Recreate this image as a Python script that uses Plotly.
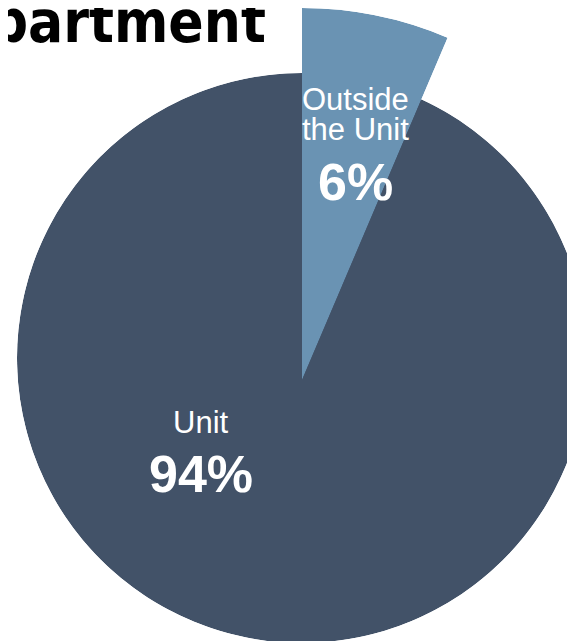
import numpy as np
import plotly.graph_objects as go

# ---- data ----
categories = ["Outside the Unit", "Unit"]
shares = [6.4, 93.6]
pct_labels = ["6%", "94%"]
title_text = "Department"

# ---- styles ----
W, H = 600, 660
OFF = 8  # page body margin
UNIT_COLOR = "#425268"
OUT_COLOR = "#6a93b3"
LABEL_FONT = "Liberation Sans, Arial, sans-serif"
TITLE_FONT = "DejaVu Sans Condensed, DejaVu Sans, sans-serif"

total = sum(shares)
spans = [s / total * 360.0 for s in shares]
starts = np.cumsum([0.0] + spans[:-1])
centers = [float(st + sp / 2) for st, sp in zip(starts, spans)]

fig = go.Figure()
fig.add_trace(go.Barpolar(
    r=[1, 1], theta=centers, width=spans, text=categories,
    marker=dict(color=[UNIT_COLOR, UNIT_COLOR], line=dict(width=0)),
    subplot="polar", hoverinfo="text", showlegend=False))
fig.add_trace(go.Barpolar(
    r=[1], theta=[centers[0]], width=[spans[0]], text=[categories[0]],
    marker=dict(color=OUT_COLOR, line=dict(width=0)),
    subplot="polar2", hoverinfo="text", showlegend=False))

def px_x(x):
    return (x - OFF) / W

def px_y(y):
    return 1 - (y - OFF) / H

cx, cy, R1 = 302, 358, 285
ax_, ay_, R2 = 302, 380, 372
sp = np.deg2rad(spans[0])

common = dict(
    bgcolor="rgba(0,0,0,0)",
    radialaxis=dict(visible=False, range=[0, 1]),
    angularaxis=dict(visible=False, rotation=90, direction="clockwise"),
    bargap=0,
)
fig.update_layout(
    polar=dict(domain=dict(x=[px_x(cx - R1), px_x(cx + R1)], y=[px_y(cy + R1), px_y(cy - R1)]), **common),
    polar2=dict(domain=dict(x=[px_x(ax_), px_x(ax_ + R2 * np.sin(sp))], y=[px_y(ay_), px_y(ay_ - R2)]),
                sector=[90 - spans[0], 90], **common),
)

anns = [
    dict(text=title_text, x=px_x(268), y=px_y(22), xanchor="right", yanchor="middle",
         font=dict(family=TITLE_FONT, size=58, color="black", weight="bold")),
    dict(text="Outside", x=px_x(355.5), y=px_y(99), xanchor="center", yanchor="middle",
         font=dict(family=LABEL_FONT, size=31, color="white")),
    dict(text="the Unit", x=px_x(355.5), y=px_y(129), xanchor="center", yanchor="middle",
         font=dict(family=LABEL_FONT, size=31, color="white")),
    dict(text="<b>" + pct_labels[0] + "</b>", x=px_x(355), y=px_y(181.5), xanchor="center", yanchor="middle",
         font=dict(family=LABEL_FONT, size=52, color="white")),
    dict(text=categories[1], x=px_x(201), y=px_y(422.5), xanchor="center", yanchor="middle",
         font=dict(family=LABEL_FONT, size=31, color="white")),
    dict(text="<b>" + pct_labels[1] + "</b>", x=px_x(201), y=px_y(474), xanchor="center", yanchor="middle",
         font=dict(family=LABEL_FONT, size=52, color="white")),
]
for a in anns:
    a.update(xref="paper", yref="paper", showarrow=False)

fig.update_layout(
    width=W, height=H,
    margin=dict(l=0, r=0, t=0, b=0, pad=0),
    paper_bgcolor="white",
    plot_bgcolor="white",
    annotations=anns,
    showlegend=False,
)

fig.write_html("out.html")
